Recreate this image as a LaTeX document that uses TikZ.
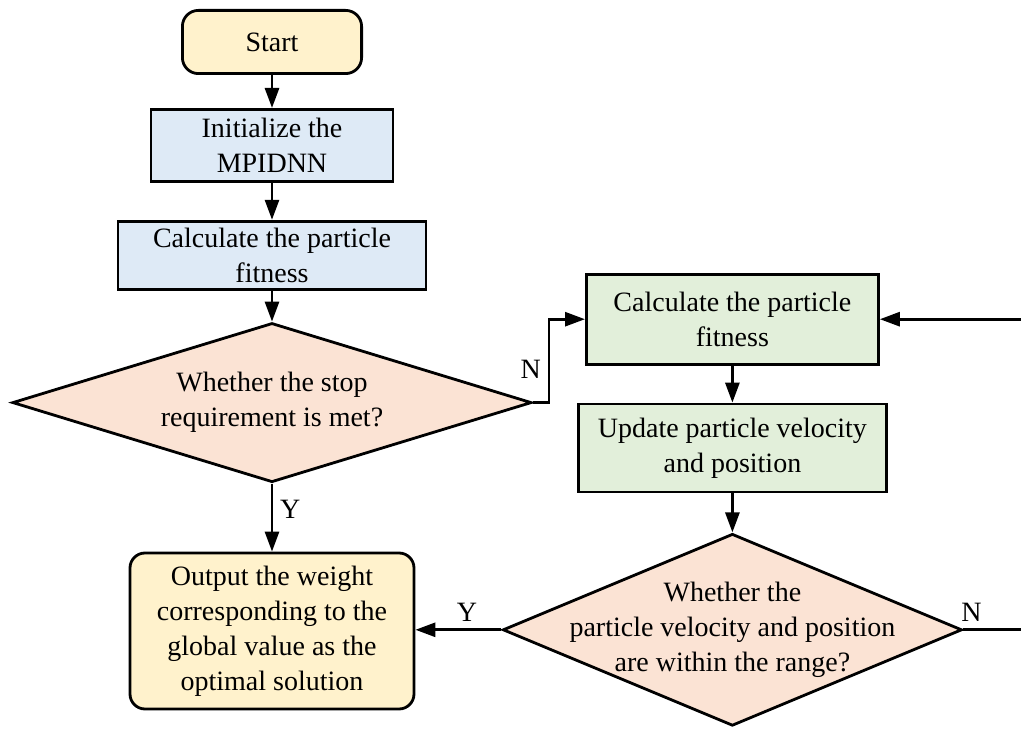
\documentclass[tikz,border=0pt]{standalone}
\usepackage{fontspec}
\setmainfont{Liberation Serif}
\usepackage{xcolor}
\usetikzlibrary{arrows.meta,positioning,shapes.geometric}
\definecolor{termfill}{HTML}{FFF2CC}
\definecolor{initfill}{HTML}{DEEAF6}
\definecolor{loopfill}{HTML}{E2EFDA}
\definecolor{checkfill}{HTML}{FBE3D4}
\begin{document}
\begin{tikzpicture}[
font=\fontsize{14pt}{17.5pt}\selectfont,
box/.style={draw,line width=1.4pt,align=center,inner sep=2pt},
term/.style={box,rounded corners=8pt,fill=termfill},
check/.style={draw,line width=1.4pt,diamond,align=center,fill=checkfill,inner sep=0pt},
arrow/.style={-{Triangle[length=10pt,width=7pt]},line width=1.4pt}
]
\useasboundingbox (-136pt,21pt) rectangle (374.5pt,-344.5pt);
\node[term,minimum width=89.6pt,minimum height=31.6pt] (start) at (0,0) {Start};
\node[box,fill=initfill,minimum width=121pt,minimum height=36pt,below=16.5pt of start] (init) {Initialize the\\MPIDNN};
\node[box,fill=initfill,minimum width=154pt,minimum height=34pt,below=18.5pt of init] (fit) {Calculate the particle\\fitness};
\node[check,aspect=3.2,minimum width=259.6pt,minimum height=79.6pt,below=15.5pt of fit] (stop) {Whether the stop\\requirement is met?};
\node[term,rounded corners=7.5pt,minimum width=142pt,minimum height=78pt,below=34pt of stop] (output) {Output the weight\\corresponding to the\\global value as the\\optimal solution};
\node[box,fill=loopfill,minimum width=146pt,minimum height=45pt,above right=18.5pt and 26pt of stop.east] (refit) {Calculate the particle\\fitness};
\node[box,fill=loopfill,minimum width=154pt,minimum height=44pt,below=18.5pt of refit] (update) {Update particle velocity\\and position};
\node[check,aspect=2.37,inner xsep=-12pt,inner ysep=-8pt,minimum width=229.6pt,minimum height=96pt,below=19.5pt of update] (range) {Whether the\\particle velocity and position\\are within the range?};
\coordinate (rangeout) at (374.5pt,0 |- range.east);
\coordinate (refitin) at (374.5pt,0 |- refit.east);
\draw[arrow] (start) -- (init);
\draw[arrow] (init) -- (fit);
\draw[arrow] (fit) -- (stop);
\draw[arrow] (stop) -- node[right,pos=0.38]{Y} (output);
\draw[arrow] (stop.east) -- ++(8pt,0) |- node[left,pos=0.2]{N} (refit.west);
\draw[arrow] (refit) -- (update);
\draw[arrow] (update) -- (range);
\draw[arrow] (range.west) -- node[above,pos=0.4]{Y} (range.west -| output.east);
\draw[line width=1.4pt] (range.east) -- node[above,pos=0.14]{N} (rangeout);
\draw[arrow] (refitin) -- (refit.east);
\end{tikzpicture}
\end{document}
